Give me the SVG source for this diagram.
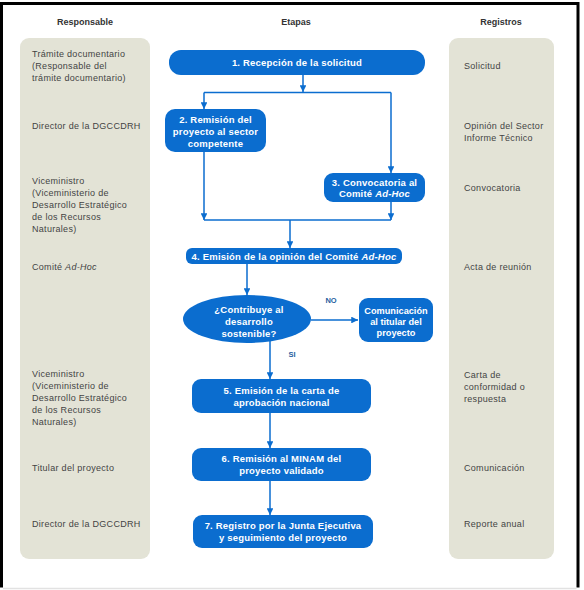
<svg xmlns="http://www.w3.org/2000/svg" width="584" height="590" viewBox="0 0 584 590">
<defs>
<style>
.hdr{font-family:"Liberation Sans",Arial,sans-serif;font-size:9px;font-weight:bold;fill:#333;text-anchor:middle}
.col{fill:#e3e3d6}
.lt{font-family:"Liberation Sans",Arial,sans-serif;font-size:9px;letter-spacing:0.3px;fill:#444}
.box{fill:#0b6dcf}
.bt{font-family:"Liberation Sans",Arial,sans-serif;font-size:9.5px;letter-spacing:0.2px;font-weight:bold;fill:#ffffff;text-anchor:middle}
.bts{letter-spacing:0px;font-size:9.2px}
.lbl{font-family:"Liberation Sans",Arial,sans-serif;font-size:7.5px;font-weight:bold;fill:#1f5f9f;text-anchor:middle}
.ln{fill:none;stroke:#0b6dcf;stroke-width:1.5}
.ar{fill:none;stroke:#0b6dcf;stroke-width:1.5;marker-end:url(#ah)}
</style>
<marker id="ah" viewBox="0 0 10 10" refX="10" refY="5" markerWidth="4.5" markerHeight="4.5" orient="auto" markerUnits="strokeWidth">
<path d="M0,0 L10,5 L0,10 z" fill="#0b6dcf"/>
</marker>
</defs>
<rect x="0" y="0" width="584" height="590" fill="#ffffff"/>
<path d="M1.5,587.5 V3.5 H578 V587.5" fill="none" stroke="#000" stroke-width="3"/>
<path d="M3,588.5 H576.5" fill="none" stroke="#e2e2e2" stroke-width="1.5"/>

<g id="headers">
<text class="hdr" x="85" y="25">Responsable</text>
<text class="hdr" x="296" y="25">Etapas</text>
<text class="hdr" x="501" y="25">Registros</text>
</g>

<g id="responsable">
<rect class="col" x="20" y="38" width="130" height="521" rx="9"/>
<text class="lt" x="32" y="57">Trámite documentario</text>
<text class="lt" x="32" y="69">(Responsable del</text>
<text class="lt" x="32" y="81">trámite documentario)</text>
<text class="lt" x="32" y="129">Director de la DGCCDRH</text>
<text class="lt" x="32" y="184">Viceministro</text>
<text class="lt" x="32" y="196">(Viceministerio de</text>
<text class="lt" x="32" y="208">Desarrollo Estratégico</text>
<text class="lt" x="32" y="220">de los Recursos</text>
<text class="lt" x="32" y="232">Naturales)</text>
<text class="lt" x="32" y="270">Comité <tspan font-style="italic">Ad-Hoc</tspan></text>
<text class="lt" x="32" y="377">Viceministro</text>
<text class="lt" x="32" y="389">(Viceministerio de</text>
<text class="lt" x="32" y="401">Desarrollo Estratégico</text>
<text class="lt" x="32" y="413">de los Recursos</text>
<text class="lt" x="32" y="425">Naturales)</text>
<text class="lt" x="32" y="471">Titular del proyecto</text>
<text class="lt" x="32" y="527">Director de la DGCCDRH</text>
</g>

<g id="registros">
<rect class="col" x="449" y="38" width="105" height="521" rx="9"/>
<text class="lt" x="464" y="69">Solicitud</text>
<text class="lt" x="464" y="129">Opinión del Sector</text>
<text class="lt" x="464" y="141">Informe Técnico</text>
<text class="lt" x="464" y="191">Convocatoria</text>
<text class="lt" x="464" y="270">Acta de reunión</text>
<text class="lt" x="464" y="378">Carta de</text>
<text class="lt" x="464" y="390">conformidad o</text>
<text class="lt" x="464" y="402">respuesta</text>
<text class="lt" x="464" y="471">Comunicación</text>
<text class="lt" x="464" y="527">Reporte anual</text>
</g>

<g id="connectors">
<path class="ar" d="M303,75 V92"/>
<path class="ln" d="M204,92.5 H391"/>
<path class="ar" d="M204,92.5 V109"/>
<path class="ar" d="M391,92.5 V173"/>
<path class="ar" d="M204,152 V220"/>
<path class="ar" d="M391,202 V220"/>
<path class="ln" d="M204,220 H391"/>
<path class="ar" d="M290,220 V248"/>
<path class="ar" d="M247,264 V295"/>
<path class="ar" d="M311,320 H358"/>
<path class="ar" d="M270,341 V379"/>
<path class="ar" d="M270,413 V448"/>
<path class="ar" d="M270,481 V515"/>
<text class="lbl" x="331" y="303">NO</text>
<text class="lbl" x="292" y="357">SI</text>
</g>

<g id="n1">
<rect class="box" x="169" y="50" width="256" height="25" rx="12"/>
<text class="bt" x="297" y="66">1. Recepción de la solicitud</text>
</g>
<g id="n2">
<rect class="box" x="165" y="109" width="101" height="43" rx="10"/>
<text class="bt" x="215.5" y="122.5">2. Remisión del</text>
<text class="bt" x="215.5" y="134.5">proyecto al sector</text>
<text class="bt" x="215.5" y="146.5">competente</text>
</g>
<g id="n3">
<rect class="box" x="324" y="173" width="101" height="29" rx="9"/>
<text class="bt" x="374.5" y="185.5">3. Convocatoria al</text>
<text class="bt" x="374.5" y="196.5">Comité <tspan font-style="italic">Ad-Hoc</tspan></text>
</g>
<g id="n4">
<rect class="box" x="186" y="248" width="216" height="16" rx="6"/>
<text class="bt" x="294" y="259.5">4. Emisión de la opinión del Comité <tspan font-style="italic">Ad-Hoc</tspan></text>
</g>
<g id="decision">
<ellipse class="box" cx="247" cy="319" rx="64" ry="24"/>
<text class="bt" x="249" y="313">¿Contribuye al</text>
<text class="bt" x="249" y="325">desarrollo</text>
<text class="bt" x="249" y="337">sostenible?</text>
</g>
<g id="ncom">
<rect class="box" x="359" y="298" width="74" height="44" rx="9"/>
<text class="bt bts" x="396" y="314">Comunicación</text>
<text class="bt bts" x="396" y="325">al titular del</text>
<text class="bt bts" x="396" y="336">proyecto</text>
</g>
<g id="n5">
<rect class="box" x="192" y="379" width="179" height="34" rx="9"/>
<text class="bt" x="281.5" y="394">5. Emisión de la carta de</text>
<text class="bt" x="281.5" y="406">aprobación nacional</text>
</g>
<g id="n6">
<rect class="box" x="192" y="448" width="179" height="33" rx="9"/>
<text class="bt" x="281.5" y="462">6. Remisión al MINAM del</text>
<text class="bt" x="281.5" y="474">proyecto validado</text>
</g>
<g id="n7">
<rect class="box" x="193" y="515" width="180" height="33" rx="9"/>
<text class="bt" x="283" y="529">7. Registro por la Junta Ejecutiva</text>
<text class="bt" x="283" y="541">y seguimiento del proyecto</text>
</g>
</svg>
